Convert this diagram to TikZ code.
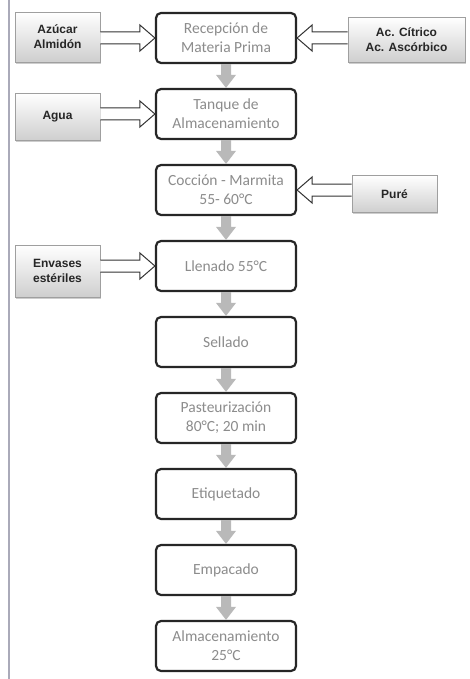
\documentclass[tikz,border=0pt]{standalone}
\usepackage{fontspec}
\setmainfont{Carlito}
\newfontfamily\sidefont{Liberation Sans}
\usetikzlibrary{calc,shadows}
\definecolor{edgeline}{RGB}{170,170,185}
\tikzset{
  mainbox/.style={draw=black!85, line width=2.2pt, rounded corners=5pt, fill=white,
    minimum width=140pt, minimum height=50pt, align=center, text=black!45,
    font=\fontsize{15.5}{19}\selectfont, inner sep=2pt},
  sidebox/.style={draw=gray!75, line width=0.8pt, top color=white, bottom color=gray!38,
    drop shadow={shadow xshift=1.2pt, shadow yshift=-1.8pt, fill=gray!55, opacity=0.7},
    align=center, text=black!85, font=\sidefont\bfseries\fontsize{12}{15}\selectfont, inner sep=2pt},
  hollow/.style={draw=black!80, fill=white, line width=1pt, line join=miter},
  garrow/.style={fill=gray!55},
}
\newcommand{\hollowarrow}[2]{%
  \filldraw[hollow] let \p1=(#1), \p2=(#2), \n1={ifthenelse(\x2>\x1,1,-1)*15pt} in
    (\x1,\y2+6pt) -- (\x2-\n1,\y2+6pt) -- (\x2-\n1,\y2+13pt) -- (\x2,\y2)
    -- (\x2-\n1,\y2-13pt) -- (\x2-\n1,\y2-6pt) -- (\x1,\y2-6pt);}
\newcommand{\grayarrow}[2]{%
  \fill[garrow] let \p1=(#1), \p2=(#2) in
    (\x1-5pt,\y1) -- (\x1-5pt,\y2+13pt) -- (\x1-10pt,\y2+13pt) -- (\x1,\y2)
    -- (\x1+10pt,\y2+13pt) -- (\x1+5pt,\y2+13pt) -- (\x1+5pt,\y1) -- cycle;}
\begin{document}
\begin{tikzpicture}[x=1pt,y=-1pt]
\useasboundingbox (0,0) rectangle (470,679);
\fill[white] (0,0) rectangle (470,679);
\draw[line width=1.6pt, color=edgeline] (9,0) -- (9,679);

% main column
\node[mainbox] (rec) at (226,38) {Recepción de\\Materia Prima};
\node[mainbox] (tan) at (226,114) {Tanque de\\Almacenamiento};
\node[mainbox] (coc) at (226,190) {Cocción - Marmita\\55- 60°C};
\node[mainbox] (lle) at (226,266) {Llenado 55°C};
\node[mainbox] (sel) at (226,342) {Sellado};
\node[mainbox] (pas) at (226,418) {Pasteurización\\80°C; 20 min};
\node[mainbox] (eti) at (226,494) {Etiquetado};
\node[mainbox] (emp) at (226,570) {Empacado};
\node[mainbox] (alm) at (226,646) {Almacenamiento\\25°C};

% side inputs
\node[sidebox, minimum width=85pt, minimum height=50pt] (azu) at (57.5,37) {Azúcar\\Almidón};
\node[sidebox, minimum width=117pt, minimum height=45pt] (aci) at (406.5,39.5) {Ac. Cítrico\\Ac. Ascórbico};
\node[sidebox, minimum width=85pt, minimum height=47pt] (agu) at (57.5,116.5) {Agua};
\node[sidebox, minimum width=85pt, minimum height=37pt] (pur) at (394.5,194) {Puré};
\node[sidebox, minimum width=85pt, minimum height=52pt] (env) at (57.5,271) {Envases\\estériles};

% hollow input arrows
\hollowarrow{azu.east}{rec.west}
\hollowarrow{aci.west}{rec.east}
\hollowarrow{agu.east}{tan.west}
\hollowarrow{pur.west}{coc.east}
\hollowarrow{env.east}{lle.west}

% grey flow arrows
\grayarrow{rec.south}{tan.north}
\grayarrow{tan.south}{coc.north}
\grayarrow{coc.south}{lle.north}
\grayarrow{lle.south}{sel.north}
\grayarrow{sel.south}{pas.north}
\grayarrow{pas.south}{eti.north}
\grayarrow{eti.south}{emp.north}
\grayarrow{emp.south}{alm.north}
\end{tikzpicture}
\end{document}
